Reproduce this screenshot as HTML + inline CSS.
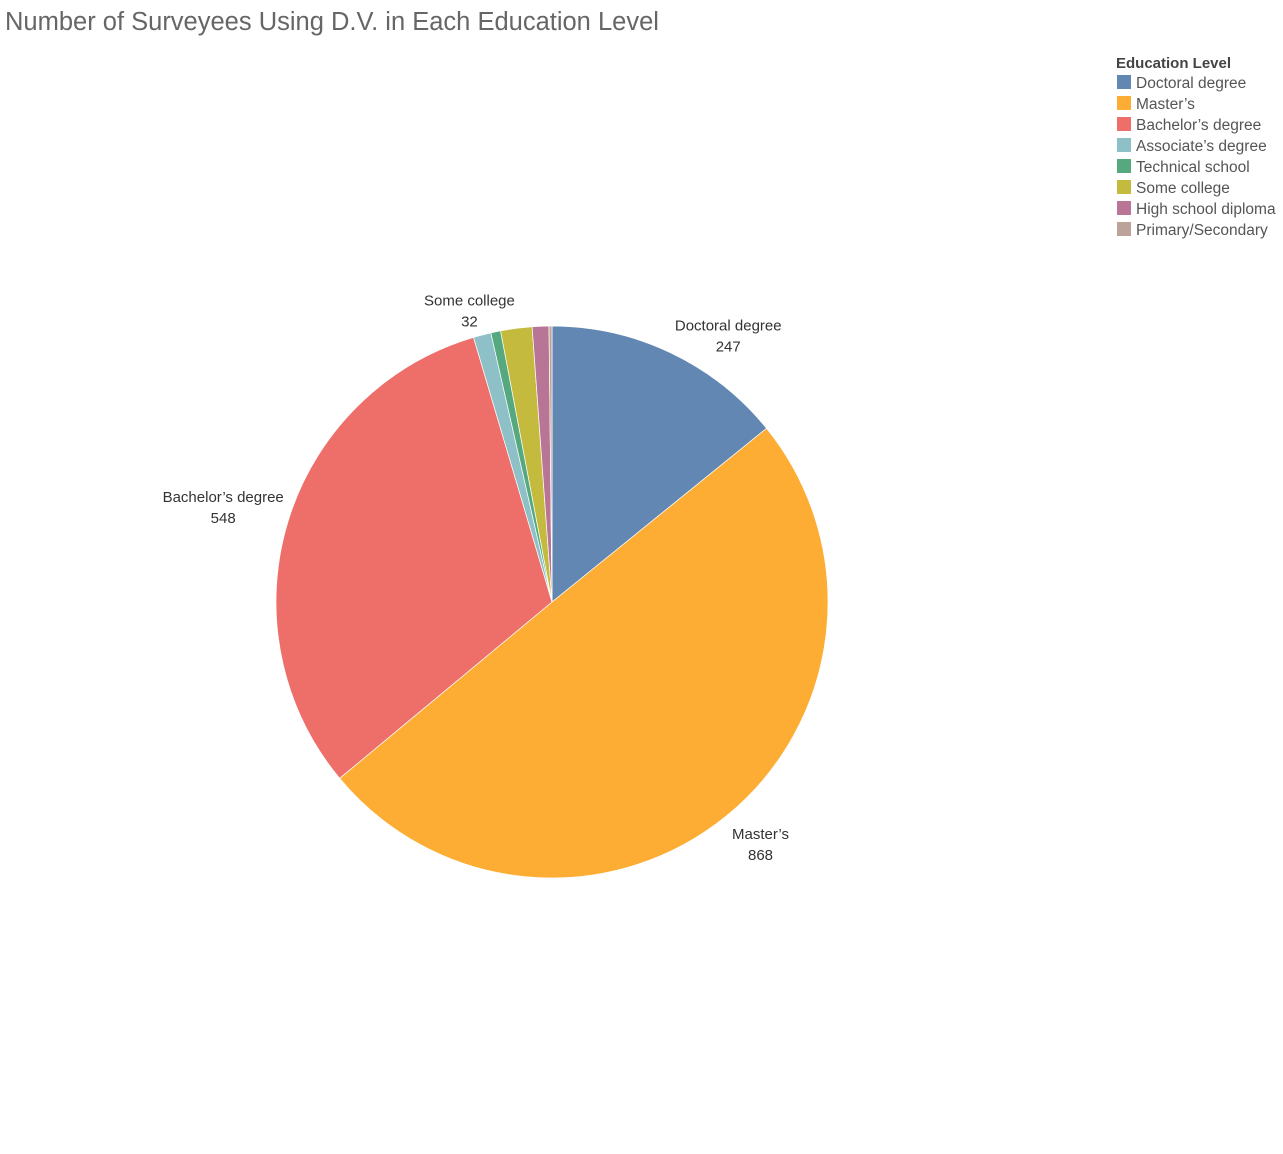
<!DOCTYPE html>
<html><head><meta charset="utf-8"><style>
body{margin:0;background:#fff;font-family:"Liberation Sans","DejaVu Sans",sans-serif;}
#wrap{position:relative;width:1283px;height:1154px;overflow:hidden}
.title{position:absolute;left:5px;top:8px;font-size:25.5px;color:#666;}
</style></head><body><div id="wrap">
<div class="title">Number of Surveyees Using D.V. in Each Education Level</div>
<svg id="svg" width="1283" height="1154" style="position:absolute;left:0;top:0"></svg>
</div>
<script>
const categories=["Doctoral degree","Master’s","Bachelor’s degree","Associate’s degree","Technical school","Some college","High school diploma","Primary/Secondary"];
const values=[247,868,548,18,10,32,17,3];
const colors=["#6287b3","#fdad33","#ee6f6a","#8ec0c8","#56a97f","#c4bb3e","#b97596","#bba39a"];
const labeled=[0,1,2,5];
const NS="http://www.w3.org/2000/svg";
const svg=document.getElementById('svg');
const cx=552,cy=602,r=276;
const total=values.reduce((a,b)=>a+b,0);
function pt(a,rr){return [cx+rr*Math.sin(a),cy-rr*Math.cos(a)];}
let acc=0;
values.forEach((v,i)=>{
  const a0=acc/total*2*Math.PI; acc+=v; const a1=acc/total*2*Math.PI;
  const p0=pt(a0,r),p1=pt(a1,r);
  const path=document.createElementNS(NS,'path');
  path.setAttribute('d',`M${cx},${cy}L${p0[0]},${p0[1]}A${r},${r} 0 ${a1-a0>Math.PI?1:0} 1 ${p1[0]},${p1[1]}Z`);
  path.setAttribute('fill',colors[i]);path.setAttribute('stroke','#fff');path.setAttribute('stroke-width','0.7');
  
  
  svg.appendChild(path);
  if(labeled.includes(i)){
    const am=(a0+a1)/2; const lp=pt(am,r+(i==5?22:(i==2?30:45)));
    let x=lp[0], anchor='middle';
    if(i==0){x=lp[0]+38;} if(i==2){x=lp[0]-36;} if(i==1){x=lp[0]+5;} if(i==5){x=lp[0]-44;}
    const y=lp[1]+(i==0?18:(i==1?-11:(i==5?-1:-11)));
    [categories[i],String(v)].forEach((s,k)=>{
      const t=document.createElementNS(NS,'text');
      t.setAttribute('x',x);t.setAttribute('y',y+k*21);t.setAttribute('text-anchor',anchor);
      t.setAttribute('font-size','15');t.setAttribute('fill','#333');t.textContent=s;
      
      
      svg.appendChild(t);
    });
  }
});
const lt=document.createElementNS(NS,'text');
lt.setAttribute('x',1116);lt.setAttribute('y',68);lt.setAttribute('font-size','15');lt.setAttribute('font-weight','bold');lt.setAttribute('fill','#444');lt.textContent='Education Level';


svg.appendChild(lt);
categories.forEach((c,i)=>{
  const g=document.createElementNS(NS,'g');
  
  
  const rc=document.createElementNS(NS,'rect');
  rc.setAttribute('x',1117);rc.setAttribute('y',75+i*21);rc.setAttribute('width',14);rc.setAttribute('height',14);rc.setAttribute('fill',colors[i]);
  const t=document.createElementNS(NS,'text');
  t.setAttribute('x',1136);t.setAttribute('y',88+i*21);t.setAttribute('font-size','15.5');t.setAttribute('fill','#555');t.textContent=c;
  g.appendChild(rc);g.appendChild(t);svg.appendChild(g);
});
</script></body></html>
